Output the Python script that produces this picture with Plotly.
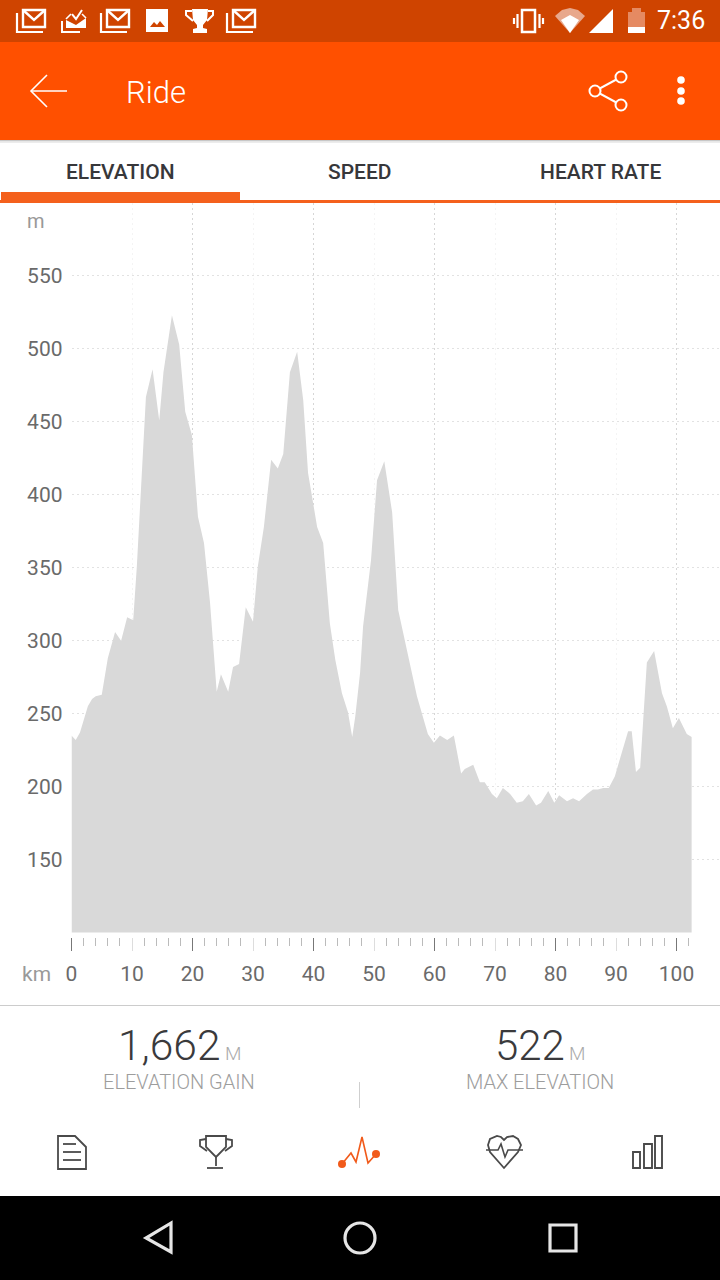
import plotly.graph_objects as go

# ---------- data ----------
km = [0, 0.7, 1.4, 2.1, 2.7, 3.4, 4.0, 5.0, 6.0, 7.2, 8.2, 9.2, 10.2, 10.8, 11.4, 12.0, 12.3, 13.4,
      14.5, 15.2, 16.6, 17.8, 18.8, 19.9, 20.9, 21.9, 22.9, 24.0, 24.7, 25.9, 26.7, 27.7, 28.8, 30.0,
      30.8, 31.8, 33.0, 34.1, 35.0, 36.1, 37.3, 38.3, 39.1, 40.6, 41.6, 42.7, 43.6, 44.7, 45.7, 46.4,
      46.9, 47.7, 48.2, 49.5, 50.5, 51.7, 53.0, 54.0, 55.5, 57.1, 58.9, 59.9, 60.9, 62.1, 63.2, 64.4,
      65.0, 66.4, 67.5, 68.3, 69.5, 70.3, 71.3, 72.5, 73.6, 74.6, 75.6, 76.8, 77.6, 78.8, 79.8, 80.6,
      81.9, 82.9, 83.9, 85.2, 86.2, 87.0, 87.9, 88.8, 89.8, 91.0, 92.0, 92.6, 93.3, 94.0, 95.1, 96.3,
      97.6, 98.4, 99.4, 100.4, 101.7, 102.5]
elevation = [235, 232, 237, 246, 255, 260, 262, 263, 288, 306, 300, 316, 314, 351, 399, 442, 467, 486,
             451, 484, 523, 503, 457, 441, 385, 367, 326, 265, 277, 265, 282, 284, 323, 313,
             351, 378, 424, 418, 428, 484, 498, 465, 415, 378, 367, 312, 287, 264, 251, 234,
             248, 278, 310, 355, 410, 423, 388, 321, 292, 262, 236, 230, 235, 232, 235, 209,
             212, 215, 203, 203, 195, 192, 199, 195, 189, 190, 195, 187, 189, 197, 189, 194,
             190, 192, 190, 195, 198, 198, 199, 199, 207, 223, 238, 238, 210, 213, 285, 293,
             264, 255, 240, 247, 236, 234]

y_ticks = [150, 200, 250, 300, 350, 400, 450, 500, 550]
x_labels = [0, 10, 20, 30, 40, 50, 60, 70, 80, 90, 100]
x_major = [20, 40, 60, 80, 100]
x_start = [0]
x_minor = [2, 4, 6, 8, 12, 14, 16, 18, 22, 24, 26, 28, 32, 34, 36, 38, 42, 44, 46, 48, 52, 54, 56, 58,
           62, 64, 66, 68, 72, 74, 76, 78, 82, 84, 86, 88, 92, 94, 96, 98, 102]
tabs = ["ELEVATION", "SPEED", "HEART RATE"]
stat_values = ["1,662", "522"]
stat_labels = ["ELEVATION GAIN", "MAX ELEVATION"]

W, H = 720, 1280
FONT = "Roboto"
ORANGE = "#ff5000"
DARK_O = "#cf4400"
TAB_O = "#f4601c"


def fx(x):
    return x / W


def fy(y):
    return 1 - y / H


shapes = []
annots = []


def rect(x0, y0, x1, y1, fill=None, line=None, lw=0):
    shapes.append(dict(type="rect", xref="paper", yref="paper", x0=fx(x0), x1=fx(x1), y0=fy(y0), y1=fy(y1),
                       fillcolor=fill or "rgba(0,0,0,0)", line=dict(width=lw, color=line or "rgba(0,0,0,0)"),
                       layer="above"))


def circle(cx, cy, r, fill=None, line=None, lw=0):
    shapes.append(dict(type="circle", xref="paper", yref="paper", x0=fx(cx - r), x1=fx(cx + r), y0=fy(cy - r),
                       y1=fy(cy + r), fillcolor=fill or "rgba(0,0,0,0)",
                       line=dict(width=lw, color=line or "rgba(0,0,0,0)"), layer="above"))


def path(pts, line=None, lw=0, fill=None, close=False):
    d = "M" + " L".join(f"{fx(x):.5f},{fy(y):.5f}" for x, y in pts) + (" Z" if close else "")
    shapes.append(dict(type="path", xref="paper", yref="paper", path=d,
                       fillcolor=fill or "rgba(0,0,0,0)",
                       line=dict(width=lw, color=line or "rgba(0,0,0,0)"), layer="above"))


def text(x, y, s, size, color, anchor="center", weight=400):
    annots.append(dict(xref="paper", yref="paper", x=fx(x), y=fy(y), text=s, showarrow=False, xanchor=anchor,
                       yanchor="middle", borderpad=0, borderwidth=0,
                       font=dict(family=FONT, size=size, color=color, weight=weight)))


# ---------- app chrome ----------
rect(0, 0, W, 42, DARK_O)
rect(0, 42, W, 140, ORANGE)
rect(0, 140, W, 141.5, "#c8c8c8")
rect(0, 141.5, W, 143, "#ececec")
WHT = "#ffffff"


def gmail(x):
    path([(x + 1, 13), (x + 1, 32), (x + 27, 32)], WHT, 2.2)
    rect(x + 7, 10, x + 29, 27, None, WHT, 2.4)
    path([(x + 7, 10), (x + 18, 20), (x + 29, 10)], WHT, 2.4)


gmail(16)
gmail(100)
gmail(226)
# task mail icon
path([(62, 21), (62, 32), (80, 32)], WHT, 2)
path([(66, 20), (76, 25), (86, 18), (86, 28), (66, 28)], None, 0, WHT, True)
path([(66, 19), (71, 14)], WHT, 1.6)
path([(82, 14), (86, 18)], WHT, 1.6)
path([(72, 14), (76, 19), (82, 10)], WHT, 2)
# picture icon
rect(146, 9, 168, 32, WHT)
path([(150, 27), (154, 22), (157, 25), (160, 21), (165, 27)], None, 0, DARK_O, True)
# trophy
path([(192, 9), (208, 9), (207, 20), (203, 25), (203, 28), (207, 29), (207, 33), (193, 33), (193, 29),
      (197, 28), (197, 25), (193, 20)], None, 0, WHT, True)
path([(192, 11), (186, 11), (186, 15), (193, 21)], WHT, 2)
path([(208, 11), (213, 11), (213, 15), (207, 21)], WHT, 2)
# vibrate
rect(522, 10, 535, 32, None, WHT, 2.5)
path([(517.5, 14), (517.5, 28)], WHT, 2.2)
path([(539.5, 14), (539.5, 28)], WHT, 2.2)
path([(514, 18), (514, 24)], WHT, 2.2)
path([(543, 18), (543, 24)], WHT, 2.2)
# wifi
path([(555, 16), (562, 10), (570, 8), (578, 10), (585, 16), (570, 33)], None, 0, "#e8a88c", True)
path([(561, 20), (570, 15), (579, 20), (570, 33)], None, 0, WHT, True)
# signal
path([(589, 33), (613, 9), (613, 33)], None, 0, WHT, True)
# battery
rect(628, 12, 645, 33, "#e58a62")
rect(632, 8, 641, 12, "#e58a62")
rect(628, 27, 645, 33, WHT)
text(705, 21, "7:36", 25, "#ffffff", "right")
# toolbar
path([(47, 75), (31, 91), (47, 107)], WHT, 1.6)
path([(31, 91), (67, 91)], WHT, 1.6)
text(126, 92, "Ride", 31, "#ffffff", "left", 300)
path([(621, 77), (595, 91), (621, 105)], WHT, 2)
circle(595, 91, 5.5, ORANGE, WHT, 2)
circle(621, 77, 5.5, ORANGE, WHT, 2)
circle(621, 105, 5.5, ORANGE, WHT, 2)
circle(681, 80, 3.8, WHT)
circle(681, 91, 3.8, WHT)
circle(681, 101, 3.8, WHT)
# tabs
for cx, t in zip((120, 360, 600), tabs):
    text(cx, 172, t, 21, "#37373a", "center", 500)
rect(0, 200, W, 203, TAB_O)
rect(1, 192, 240, 200.5, TAB_O)
# chart units
text(27, 221, "m", 20, "#999999", "left")
text(22, 973.5, "km", 21, "#999999", "left")
# summary
rect(0, 1005, W, 1006, "#cccccc")
GREY = "#9d9d9d"
text(169, 1045, stat_values[0], 42.5, "#3a3a3c", "center", 300)
text(225, 1053, "M", 19, "#aaaaaa", "left", 300)
text(179, 1082, stat_labels[0], 20, GREY, "center", 300)
text(530, 1045, stat_values[1], 42, "#3a3a3c", "center", 300)
text(569, 1053, "M", 19, "#aaaaaa", "left", 300)
text(540, 1082, stat_labels[1], 20, GREY, "center", 300)
rect(359, 1082, 360, 1108, "#cfcfcf")
# bottom icons
ICON = "#4a4a4a"
path([(58, 1136), (75, 1136), (86, 1147), (86, 1169), (58, 1169)], ICON, 1.8, None, True)
for yy, x1 in ((1144, 76), (1152, 81), (1160, 81)):
    path([(63, yy), (x1, yy)], ICON, 1.8)
path([(206, 1136), (226, 1136), (226, 1147), (218, 1155), (216, 1157), (214, 1155), (206, 1147)],
     ICON, 1.8, None, True)
path([(206, 1139), (200, 1140), (200, 1146), (207, 1151)], ICON, 1.8)
path([(226, 1139), (232, 1140), (232, 1146), (225, 1151)], ICON, 1.8)
path([(216, 1157), (216, 1166)], ICON, 1.8)
path([(207, 1168), (223, 1168)], ICON, 1.8)
path([(342, 1164), (351, 1153), (356, 1162), (362, 1137), (368, 1163), (376, 1154)], "#f15a1a", 1.6)
circle(342, 1164, 4, "#f15a1a")
circle(376, 1154, 4, "#f15a1a")
path([(504, 1168), (490, 1152), (488, 1145), (490, 1139), (497, 1136), (501, 1137), (504, 1140), (507, 1137),
      (513, 1136), (518, 1139), (521, 1145), (518, 1152)], ICON, 1.8, None, True)
path([(486, 1150), (498, 1150), (501, 1144), (505, 1157), (508, 1150), (523, 1150)], ICON, 1.6)
rect(633, 1152, 640, 1168, None, ICON, 1.9)
rect(644, 1144, 652, 1168, None, ICON, 1.9)
rect(655, 1136, 662, 1168, None, ICON, 1.9)
# nav bar
rect(0, 1196, W, H, "#000000")
NAV = "#e6e6e6"
path([(171, 1223), (146, 1238), (171, 1252)], NAV, 3.2, None, True)
circle(360, 1238, 15, None, NAV, 3.2)
rect(550, 1225, 576, 1251, None, NAV, 3.2)

# ---------- figure ----------
fig = go.Figure()
fig.add_trace(go.Scatter(x=km, y=elevation, mode="lines", fill="tozeroy", fillcolor="#d9d9d9",
                         line=dict(width=0, color="#d9d9d9"), hoverinfo="skip", showlegend=False))
fig.add_trace(go.Scatter(x=[], y=[], xaxis="x2", mode="lines", hoverinfo="skip", showlegend=False))

X_DOMAIN = [71.5 / W, 1]
Y_DOMAIN = [fy(932.5), fy(203)]
AXIS_POS = fy(937)
X_RANGE = [0, (W - 71.5) / 6.05]

fig.update_layout(
    width=W, height=H, margin=dict(l=0, r=0, t=0, b=0, pad=0, autoexpand=False),
    paper_bgcolor="#ffffff", plot_bgcolor="#ffffff",
    showlegend=False, shapes=shapes, annotations=annots,
    xaxis=dict(domain=X_DOMAIN, range=X_RANGE, anchor="free", position=AXIS_POS, side="bottom",
               tickmode="array", tickvals=x_labels, ticks="outside", ticklen=13, tickwidth=1, tickcolor="#dddddd",
               tickfont=dict(family=FONT, size=21, color="#6a6a6a"), ticklabelstandoff=5,
               showgrid=True, gridcolor="#f4f4f4", griddash="2px,3px", gridwidth=1, zeroline=False, showline=False,
               minor=dict(tickmode="array", tickvals=x_minor, ticks="outside", ticklen=8, tickwidth=1,
                          tickcolor="#bbbbbb", showgrid=False)),
    xaxis2=dict(domain=X_DOMAIN, range=X_RANGE, overlaying="x", anchor="free", position=AXIS_POS, side="bottom",
                tickmode="array", tickvals=x_major, ticks="outside", ticklen=13, tickwidth=1, tickcolor="#777777",
                showticklabels=False, showgrid=True, gridcolor="#d6d6d6", griddash="2px,3px", gridwidth=1,
                zeroline=False, showline=False,
                minor=dict(tickmode="array", tickvals=x_start, ticks="outside", ticklen=13, tickwidth=1,
                           tickcolor="#777777", showgrid=False)),
    yaxis=dict(domain=Y_DOMAIN, range=[100, 600], anchor="x", side="left", tickmode="array", tickvals=y_ticks,
               ticks="", tickfont=dict(family=FONT, size=21, color="#6a6a6a"), ticklabelstandoff=8,
               showgrid=True, gridcolor="#e2e2e2", griddash="2px,3px", gridwidth=1, zeroline=False, showline=False),
)

fig.write_html("out.html", config=dict(displayModeBar=False),
               post_script="document.body.style.margin='0';document.body.style.overflow='hidden';")
